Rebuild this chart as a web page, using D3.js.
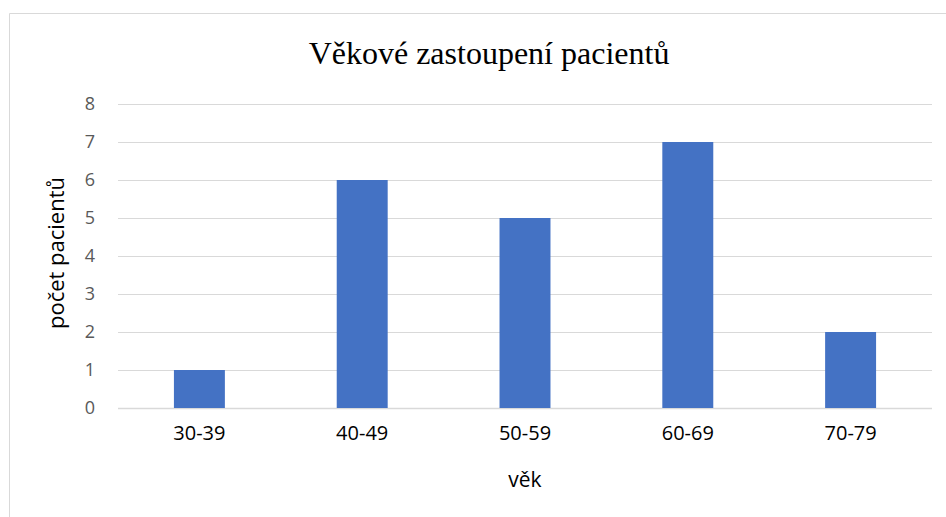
<!DOCTYPE html>
<html>
<head>
<meta charset="utf-8">
<script src="https://cdn.jsdelivr.net/npm/d3@7"></script>
<style>
  body { margin: 0; background: #fff; }
  svg { display: block; }
</style>
</head>
<body>
<svg id="chart"></svg>
<script>
const categories = ["30-39", "40-49", "50-59", "60-69", "70-79"];
const patients = [1, 6, 5, 7, 2];
const yTicks = [0, 1, 2, 3, 4, 5, 6, 7, 8];

const width = 946, height = 517;
const plot = { left: 118, right: 932, top: 104, bottom: 408 };

const svg = d3.select("#chart")
    .attr("width", width)
    .attr("height", height);

// chart frame (only top and left edges fall inside the picture)
svg.append("path")
    .attr("d", `M9.5,${height} V13.5 H${width}`)
    .attr("fill", "none")
    .attr("stroke", "#d9d9d9")
    .attr("stroke-width", 1);

const x = d3.scaleBand()
    .domain(categories)
    .range([plot.left, plot.right])
    .paddingInner(0.687)
    .paddingOuter(0.3435);

const y = d3.scaleLinear()
    .domain([0, 8])
    .range([plot.bottom, plot.top]);

// gridlines
svg.append("g")
    .selectAll("line")
    .data(yTicks)
    .enter()
    .append("line")
    .attr("x1", plot.left)
    .attr("x2", plot.right)
    .attr("y1", d => Math.round(y(d)) + 0.5)
    .attr("y2", d => Math.round(y(d)) + 0.5)
    .attr("stroke", "#d9d9d9")
    .attr("stroke-width", d => d === 0 ? 1.5 : 1);

// y tick labels
const yAxis = svg.append("g")
    .attr("transform", `translate(${plot.left},0)`)
    .call(d3.axisLeft(y).tickValues(yTicks).tickSize(0).tickPadding(23).tickFormat(d3.format("d")));
yAxis.select(".domain").remove();
yAxis.selectAll("text")
    .attr("fill", "#595959")
    .style("font-family", "'Open Sans', 'Noto Sans', sans-serif")
    .style("font-size", "18px");

// bars
svg.append("g")
    .selectAll("rect")
    .data(patients)
    .enter()
    .append("rect")
    .attr("x", (d, i) => x(categories[i]))
    .attr("width", x.bandwidth())
    .attr("y", d => y(d))
    .attr("height", d => y(0) - y(d))
    .attr("fill", "#4472c4");

// x tick labels
const xAxis = svg.append("g")
    .attr("transform", `translate(0,${plot.bottom})`)
    .call(d3.axisBottom(x).tickSize(0).tickPadding(18));
xAxis.select(".domain").remove();
xAxis.selectAll("text")
    .attr("fill", "#000")
    .style("font-family", "'Open Sans', 'Noto Sans', sans-serif")
    .style("font-size", "20px");

// title
svg.append("text")
    .attr("x", 489)
    .attr("y", 64)
    .attr("text-anchor", "middle")
    .style("font-family", "'Liberation Serif', 'Times New Roman', serif")
    .style("font-size", "32px")
    .attr("fill", "#000")
    .text("Věkové zastoupení pacientů");

// axis titles
svg.append("text")
    .attr("transform", "translate(64,253) rotate(-90)")
    .attr("text-anchor", "middle")
    .style("font-family", "'Open Sans', 'Noto Sans', sans-serif")
    .style("font-size", "22px")
    .attr("fill", "#000")
    .text("počet pacientů");

svg.append("text")
    .attr("x", 525)
    .attr("y", 487)
    .attr("text-anchor", "middle")
    .style("font-family", "'Open Sans', 'Noto Sans', sans-serif")
    .style("font-size", "21px")
    .attr("fill", "#000")
    .text("věk");
</script>
</body>
</html>
